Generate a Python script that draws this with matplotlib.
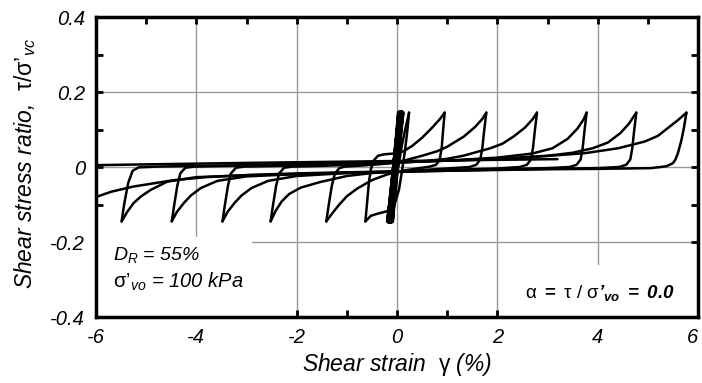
import numpy as np
import matplotlib.pyplot as plt
from matplotlib.ticker import MultipleLocator, FixedLocator, FixedFormatter
from matplotlib.patches import Rectangle

plt.rcParams['font.family'] = ['Liberation Sans', 'DejaVu Sans']
plt.rcParams['mathtext.fontset'] = 'custom'
plt.rcParams['mathtext.rm'] = 'Liberation Sans'
plt.rcParams['mathtext.it'] = 'Liberation Sans:italic'
plt.rcParams['mathtext.bf'] = 'Liberation Sans:bold'
plt.rcParams['mathtext.bfit'] = 'Liberation Sans:bold:italic'
plt.rcParams['axes.unicode_minus'] = False

# first cycles, before liquefaction (thick band near zero)
band_g = [0.0, 0.05, -0.17, 0.07, -0.15, 0.09, -0.12, 0.11, -0.18, 0.06, -0.10, 0.10, -0.16, 0.04, -0.13, 0.08, -0.11, 0.05, -0.14]
band_t = [0.0, 0.145, -0.145, 0.145, -0.145, 0.145, -0.145, 0.145, -0.145, 0.145, -0.145, 0.145, -0.145, 0.145, -0.145, 0.145, -0.145, 0.145, -0.145]

# loop A: peak +0.24, back to -0.63
a_up_g = [-0.11, 0.0, 0.1, 0.18, 0.24]
a_up_t = [-0.145, -0.02, 0.06, 0.11, 0.145]
a_dn_g = [0.24, 0.2, 0.16, 0.1, 0.04, -0.05, -0.2, -0.4, -0.52, -0.63]
a_dn_t = [0.145, 0.09, 0.045, -0.01, -0.06, -0.1, -0.118, -0.125, -0.13, -0.145]

# loop B: -0.63 -> +0.95 -> -1.41
b_up_g = [-0.63, -0.6, -0.56, -0.52, -0.46, -0.38, -0.25, -0.05, 0.13, 0.3, 0.5, 0.7, 0.85, 0.95]
b_up_t = [-0.145, -0.1, -0.04, -0.005, 0.018, 0.03, 0.034, 0.036, 0.042, 0.056, 0.078, 0.105, 0.127, 0.145]
b_dn_g = [0.95, 0.92, 0.89, 0.85, 0.78, 0.65, 0.4, 0.1, -0.2, -0.5, -0.8, -1.0, -1.15, -1.3, -1.41]
b_dn_t = [0.145, 0.1, 0.05, 0.02, 0.006, 0.001, -0.004, -0.01, -0.02, -0.035, -0.058, -0.078, -0.1, -0.125, -0.145]

# loop C: -1.41 -> +1.78 -> -2.52
c_up_g = [-1.41, -1.36, -1.3, -1.24, -1.15, -1.05, -0.7, -0.3, 0.0, 0.5, 0.8, 1.0, 1.33, 1.55, 1.7, 1.78]
c_up_t = [-0.145, -0.1, -0.05, -0.018, -0.003, 0.001, 0.004, 0.008, 0.012, 0.03, 0.042, 0.054, 0.081, 0.106, 0.128, 0.145]
c_dn_g = [1.78, 1.74, 1.7, 1.66, 1.58, 1.45, 1.0, 0.5, 0.0, -0.5, -1.0, -1.53, -1.92, -2.15, -2.3, -2.42, -2.52]
c_dn_t = [0.145, 0.1, 0.05, 0.02, 0.006, 0.0, -0.004, -0.008, -0.012, -0.016, -0.024, -0.04, -0.055, -0.072, -0.092, -0.117, -0.145]

# loop D: -2.52 -> +2.79 -> -3.48
d_up_g = [-2.52, -2.47, -2.41, -2.35, -2.25, -2.1, -1.5, -0.5, 0.5, 1.0, 1.32, 1.86, 2.1, 2.32, 2.55, 2.7, 2.79]
d_up_t = [-0.145, -0.1, -0.05, -0.017, -0.002, 0.001, 0.003, 0.008, 0.015, 0.022, 0.03, 0.05, 0.062, 0.081, 0.105, 0.127, 0.145]
d_dn_g = [2.79, 2.75, 2.71, 2.67, 2.59, 2.45, 2.0, 1.0, 0.0, -1.0, -2.0, -2.57, -2.9, -3.1, -3.24, -3.38, -3.48]
d_dn_t = [0.145, 0.1, 0.05, 0.02, 0.006, 0.0, -0.004, -0.008, -0.012, -0.016, -0.024, -0.037, -0.056, -0.076, -0.096, -0.12, -0.145]

# loop E: -3.48 -> +3.78 -> -4.49
e_up_g = [-3.48, -3.43, -3.37, -3.31, -3.21, -3.05, -2.0, -1.0, 0.0, 1.0, 2.0, 2.7, 3.1, 3.4, 3.6, 3.72, 3.78]
e_up_t = [-0.145, -0.1, -0.05, -0.017, -0.002, 0.001, 0.004, 0.008, 0.012, 0.017, 0.025, 0.036, 0.05, 0.075, 0.103, 0.127, 0.145]
e_dn_g = [3.78, 3.74, 3.7, 3.66, 3.58, 3.44, 3.0, 2.0, 1.0, 0.0, -1.0, -2.0, -3.0, -3.58, -3.91, -4.11, -4.25, -4.39, -4.49]
e_dn_t = [0.145, 0.1, 0.05, 0.02, 0.006, 0.0, -0.003, -0.006, -0.009, -0.012, -0.015, -0.019, -0.025, -0.037, -0.056, -0.076, -0.096, -0.12, -0.145]

# loop F: -4.49 -> +4.77 -> -5.49
f_up_g = [-4.49, -4.44, -4.38, -4.32, -4.22, -4.05, -3.0, -2.0, -1.0, 0.0, 1.0, 2.0, 3.0, 3.5, 3.9, 4.2, 4.45, 4.62, 4.77]
f_up_t = [-0.145, -0.1, -0.05, -0.017, -0.002, 0.001, 0.004, 0.007, 0.01, 0.013, 0.017, 0.022, 0.03, 0.038, 0.05, 0.065, 0.09, 0.115, 0.145]
f_dn_g = [4.77, 4.73, 4.69, 4.65, 4.57, 4.43, 4.0, 3.0, 2.0, 1.0, 0.0, -1.0, -2.0, -3.0, -4.0, -4.58, -4.91, -5.1, -5.25, -5.38, -5.49]
f_dn_t = [0.145, 0.1, 0.05, 0.02, 0.006, 0.0, -0.003, -0.005, -0.007, -0.01, -0.013, -0.016, -0.019, -0.022, -0.027, -0.039, -0.061, -0.078, -0.096, -0.12, -0.145]

# loop G: -5.49 -> +5.77 -> off the chart at -6
g_up_g = [-5.49, -5.44, -5.36, -5.27, -5.15, -4.8, -4.0, -3.0, -2.0, -1.0, 0.0, 1.0, 2.0, 2.75, 3.75, 4.41, 4.94, 5.2, 5.4, 5.6, 5.77]
g_up_t = [-0.145, -0.1, -0.043, -0.01, -0.001, 0.001, 0.003, 0.005, 0.008, 0.01, 0.013, 0.017, 0.021, 0.027, 0.037, 0.05, 0.068, 0.083, 0.104, 0.125, 0.145]
g_dn_g = [5.77, 5.72, 5.67, 5.6, 5.55, 5.5, 5.37, 5.07, 4.0, 3.0, 2.0, 1.0, 0.0, -1.0, -2.0, -2.92, -3.8, -4.45, -5.25, -5.7, -6.0]
g_dn_t = [0.145, 0.105, 0.072, 0.037, 0.02, 0.01, 0.002, -0.003, -0.005, -0.006, -0.008, -0.01, -0.012, -0.014, -0.017, -0.021, -0.027, -0.035, -0.052, -0.066, -0.08]

# last reloading, coming back from the left, record ends near 3.2 %
h_up_g = [-6.0, -3.0, 0.0, 3.2]
h_up_t = [0.005, 0.011, 0.016, 0.021]

xtick_vals = [-6, -4, -2, 0, 2, 4, 6]
ytick_vals = [-0.4, -0.2, 0, 0.2, 0.4]
ytick_labels = ['-0.4', '-0.2', '0', '0.2', '0.4']

fig = plt.figure(figsize=(7.02, 3.83), dpi=100)
ax = fig.add_axes([0.1368, 0.1723, 0.8575, 0.7833])

ramas = [(band_g, band_t), (a_up_g, a_up_t), (a_dn_g, a_dn_t),
         (b_up_g, b_up_t), (b_dn_g, b_dn_t), (c_up_g, c_up_t), (c_dn_g, c_dn_t),
         (d_up_g, d_up_t), (d_dn_g, d_dn_t), (e_up_g, e_up_t), (e_dn_g, e_dn_t),
         (f_up_g, f_up_t), (f_dn_g, f_dn_t), (g_up_g, g_up_t), (g_dn_g, g_dn_t),
         (h_up_g, h_up_t)]
for i, (g, t) in enumerate(ramas):
    lw = 3.0 if i == 0 else 1.8
    ax.plot(g, t, color='k', lw=lw, solid_joinstyle='round', solid_capstyle='round', zorder=2)

ax.set_xlim(-6, 6)
ax.set_ylim(-0.4, 0.4)

ax.xaxis.set_major_locator(FixedLocator(xtick_vals))
ax.xaxis.set_minor_locator(MultipleLocator(1))
ax.yaxis.set_major_locator(FixedLocator(ytick_vals))
ax.yaxis.set_major_formatter(FixedFormatter(ytick_labels))
ax.yaxis.set_minor_locator(MultipleLocator(0.1))
ax.tick_params(which='both', direction='in', length=5, width=2, top=True, right=True)
ax.tick_params(axis='x', which='major', pad=8, labelsize=14.5)
ax.tick_params(axis='y', which='major', pad=8, labelsize=14.5)
for lab in ax.get_xticklabels() + ax.get_yticklabels():
    lab.set_fontstyle('italic')
# last x label sits at the figure edge
ax.get_xticklabels()[-1].set_horizontalalignment('right')

for s in ax.spines.values():
    s.set_linewidth(2.5)

ax.set_axisbelow(True)
ax.grid(True, which='major', color='#999999', lw=1)

# white boxes behind the notes
ax.add_patch(Rectangle((-6, -0.4), 3.1, 0.213, facecolor='white', edgecolor='none', zorder=1))
ax.add_patch(Rectangle((2.45, -0.4), 3.55, 0.139, facecolor='white', edgecolor='none', zorder=1))

ax.text(-5.66, -0.235, r"$D_R$ = 55%", fontsize=14, fontstyle='italic', va='center', ha='left')
ax.text(-5.66, -0.307, "$\\mathrm{\\sigma\u2019}_{vo}$ = 100 kPa", fontsize=14.5, fontstyle='italic', va='center', ha='left')
ax.text(2.55, -0.336, "$\\mathrm{\\alpha}\\ \\mathbf{=}\\ \\mathrm{\\tau}\\ /\\ \\mathrm{\\sigma}\\mathbfit{\u2019}_{\\mathbfit{vo}}\\ \\mathbfit{=\\ 0.0}$",
        fontsize=13.5, va='center', ha='left')

ax.set_xlabel(r"Shear strain  $\mathrm{\gamma}$ (%)", fontsize=16.5, fontstyle='italic', labelpad=3)
ax.set_ylabel("Shear stress ratio,  $\\mathrm{\\tau/\\sigma\u2019}_{vc}$", fontsize=16.5, fontstyle='italic')
ax.yaxis.set_label_coords(-0.097, 0.51)

fig.savefig('out.png', dpi=100)
